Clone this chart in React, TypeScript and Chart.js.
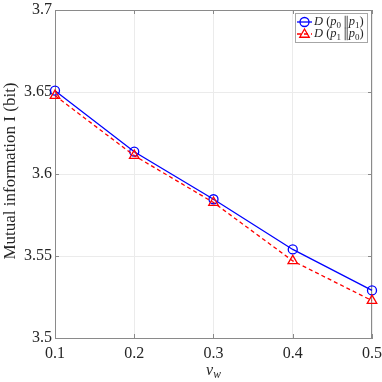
import React, { useEffect, useRef } from "react";
import { Chart, registerables } from "chart.js";

Chart.register(...registerables);

const vw = [0.1, 0.2, 0.3, 0.4, 0.5];
const d01 = [3.6508, 3.6136, 3.5846, 3.554, 3.529];
const d10 = [3.6478, 3.6112, 3.5826, 3.547, 3.5228];
const xTickValues = [0.1, 0.2, 0.3, 0.4, 0.5];
const yTickValues = [3.5, 3.55, 3.6, 3.65, 3.7];
const yTitle = "Mutual information I (bit)";

type Seg = { t: string; it?: boolean; sub?: boolean; dbar?: boolean };
const legend01: Seg[] = [
  { t: "D", it: true }, { t: " (" }, { t: "p", it: true }, { t: "0", sub: true },
  { t: " " }, { t: "\u2016", dbar: true }, { t: "p", it: true }, { t: "1", sub: true }, { t: ")" },
];
const legend10: Seg[] = [
  { t: "D", it: true }, { t: " (" }, { t: "p", it: true }, { t: "1", sub: true },
  { t: " " }, { t: "\u2016", dbar: true }, { t: "p", it: true }, { t: "0", sub: true }, { t: ")" },
];

const SERIF = "'Liberation Serif', 'DejaVu Serif', serif";
const TEXT = "#262626";
const AXIS = "#8a8a8a";

function drawRich(ctx: CanvasRenderingContext2D, segs: Seg[], x: number, y: number, size: number) {
  let cx = x;
  for (const s of segs) {
    if (s.dbar) {
      ctx.save();
      ctx.strokeStyle = ctx.fillStyle as string;
      ctx.lineWidth = 0.8;
      ctx.beginPath();
      const h = size * 0.5;
      ctx.moveTo(cx + 1, y - h); ctx.lineTo(cx + 1, y + h);
      ctx.moveTo(cx + 3, y - h); ctx.lineTo(cx + 3, y + h);
      ctx.stroke();
      ctx.restore();
      cx += 4.5;
      continue;
    }
    const fs = s.sub ? size * 0.72 : size;
    ctx.font = `${s.it ? "italic " : ""}${fs}px ${SERIF}`;
    ctx.textBaseline = "middle";
    ctx.textAlign = "left";
    ctx.fillText(s.t, cx, s.sub ? y + size * 0.28 : y);
    cx += ctx.measureText(s.t).width;
  }
}

function drawTriangle(ctx: CanvasRenderingContext2D, x: number, y: number, r: number) {
  const edge = (3 * r) / Math.sqrt(3);
  const h = (edge * Math.sqrt(3)) / 2;
  ctx.beginPath();
  ctx.moveTo(x - edge / 2, y + h / 3);
  ctx.lineTo(x + edge / 2, y + h / 3);
  ctx.lineTo(x, y - (2 * h) / 3);
  ctx.closePath();
  ctx.stroke();
}

const decorPlugin = {
  id: "decor",
  beforeDatasetsDraw(chart: any) {
    const ctx: CanvasRenderingContext2D = chart.ctx;
    const { left, right, top, bottom } = chart.chartArea;
    const xs = chart.scales.x;
    const ys = chart.scales.y;
    ctx.save();
    ctx.strokeStyle = AXIS;
    ctx.lineWidth = 1;
    ctx.beginPath();
    ctx.moveTo(left, Math.round(top) + 0.5); ctx.lineTo(right, Math.round(top) + 0.5);
    ctx.moveTo(Math.round(right) - 0.5, top); ctx.lineTo(Math.round(right) - 0.5, bottom);
    ctx.stroke();
    ctx.beginPath();
    for (const v of xTickValues) {
      const px = Math.round(xs.getPixelForValue(v)) + 0.5;
      ctx.moveTo(px, bottom); ctx.lineTo(px, bottom - 4);
      ctx.moveTo(px, top); ctx.lineTo(px, top + 4);
    }
    for (const v of yTickValues) {
      const py = Math.round(ys.getPixelForValue(v)) + 0.5;
      ctx.moveTo(left, py); ctx.lineTo(left + 4, py);
      ctx.moveTo(right, py); ctx.lineTo(right - 4, py);
    }
    ctx.stroke();
    ctx.restore();
  },
  afterDraw(chart: any) {
    const ctx: CanvasRenderingContext2D = chart.ctx;
    const { left, right } = chart.chartArea;
    ctx.save();
    ctx.fillStyle = TEXT;
    ctx.save();
    ctx.translate(11, 171);
    ctx.rotate(-Math.PI / 2);
    ctx.font = `17px ${SERIF}`;
    ctx.textAlign = "center";
    ctx.textBaseline = "middle";
    ctx.fillText(yTitle, 0, 0);
    ctx.restore();
    const cx = (left + right) / 2;
    ctx.font = `italic 16px ${SERIF}`;
    ctx.textBaseline = "middle";
    ctx.textAlign = "left";
    const vW = ctx.measureText("v").width;
    ctx.font = `italic 11.5px ${SERIF}`;
    const wW = ctx.measureText("w").width;
    const sx = cx - (vW + wW) / 2;
    ctx.font = `italic 16px ${SERIF}`;
    ctx.fillText("v", sx, 371);
    ctx.font = `italic 11.5px ${SERIF}`;
    ctx.fillText("w", sx + vW, 375);
    const bx = 295, by = 13, bw = 72, bh = 29;
    ctx.fillStyle = "#ffffff";
    ctx.fillRect(bx, by, bw, bh);
    ctx.strokeStyle = "#a6a6a6";
    ctx.lineWidth = 1;
    ctx.strokeRect(bx + 0.5, by + 0.5, bw, bh);
    const rows = [
      { y: 22, color: "#0000ff", dash: [] as number[], segs: legend01, tri: false },
      { y: 34, color: "#ff0000", dash: [4, 3], segs: legend10, tri: true },
    ];
    for (const r of rows) {
      ctx.strokeStyle = r.color;
      ctx.lineWidth = 1.3;
      ctx.setLineDash(r.dash);
      ctx.beginPath();
      ctx.moveTo(297, r.y); ctx.lineTo(312, r.y);
      ctx.stroke();
      ctx.setLineDash([]);
      if (r.tri) drawTriangle(ctx, 304.5, r.y + 0.5, 5.5);
      else { ctx.beginPath(); ctx.arc(304.5, r.y, 4.5, 0, Math.PI * 2); ctx.stroke(); }
      ctx.fillStyle = TEXT;
      drawRich(ctx, r.segs, 314, r.y, 12.5);
    }
    ctx.restore();
  },
};

export default function App() {
  const ref = useRef<HTMLCanvasElement | null>(null);
  useEffect(() => {
    document.body.style.margin = "0";
    const canvas = ref.current!;
    const chart = new Chart(canvas, {
      type: "line",
      data: {
        datasets: [
          {
            label: "D(p0||p1)",
            data: vw.map((x, i) => ({ x, y: d01[i] })),
            borderColor: "#0000ff",
            borderWidth: 1.3,
            pointStyle: "circle",
            pointRadius: 4.5,
            pointBorderWidth: 1.3,
            pointBorderColor: "#0000ff",
            pointBackgroundColor: "rgba(0,0,0,0)",
            tension: 0,
            clip: false,
            order: 1,
          },
          {
            label: "D(p1||p0)",
            data: vw.map((x, i) => ({ x, y: d10[i] })),
            borderColor: "#ff0000",
            borderWidth: 1.3,
            borderDash: [4, 3],
            pointStyle: "triangle",
            pointRadius: 5.5,
            pointBorderWidth: 1.3,
            pointBorderColor: "#ff0000",
            pointBackgroundColor: "rgba(0,0,0,0)",
            tension: 0,
            clip: false,
            order: 0,
          },
        ],
      },
      options: {
        animation: false,
        responsive: false,
        events: [],
        layout: { padding: { left: 0, top: 10, right: 10, bottom: 0 } },
        plugins: { legend: { display: false }, tooltip: { enabled: false } },
        scales: {
          x: {
            type: "linear",
            min: 0.1,
            max: 0.5,
            afterBuildTicks: (s: any) => { s.ticks = xTickValues.map((v) => ({ value: v })); },
            afterFit: (s: any) => { s.height = 44; s.paddingLeft = 0; s.paddingRight = 0; },
            ticks: {
              color: TEXT,
              font: { family: SERIF, size: 16 },
              padding: 6,
              maxRotation: 0,
              callback: (v: any) => String(Number(v).toFixed(1)),
            },
            grid: { color: "#ebebeb", drawTicks: false, lineWidth: 1 },
            border: { color: AXIS, width: 1 },
          },
          y: {
            type: "linear",
            min: 3.5,
            max: 3.7,
            afterBuildTicks: (s: any) => { s.ticks = yTickValues.map((v) => ({ value: v })); },
            afterFit: (s: any) => { s.width = 55; s.paddingTop = 0; s.paddingBottom = 0; },
            ticks: {
              color: TEXT,
              font: { family: SERIF, size: 16 },
              padding: 3,
              callback: (v: any) => String(Number(Number(v).toFixed(2))),
            },
            grid: { color: "#ebebeb", drawTicks: false, lineWidth: 1 },
            border: { color: AXIS, width: 1 },
          },
        },
      },
      plugins: [decorPlugin],
    } as any);
    return () => chart.destroy();
  }, []);
  return (
    <div style={{ position: "relative", width: 382, height: 382, background: "#fff" }}>
      <canvas ref={ref} width={382} height={382} style={{ display: "block", width: 382, height: 382 }} />
    </div>
  );
}
